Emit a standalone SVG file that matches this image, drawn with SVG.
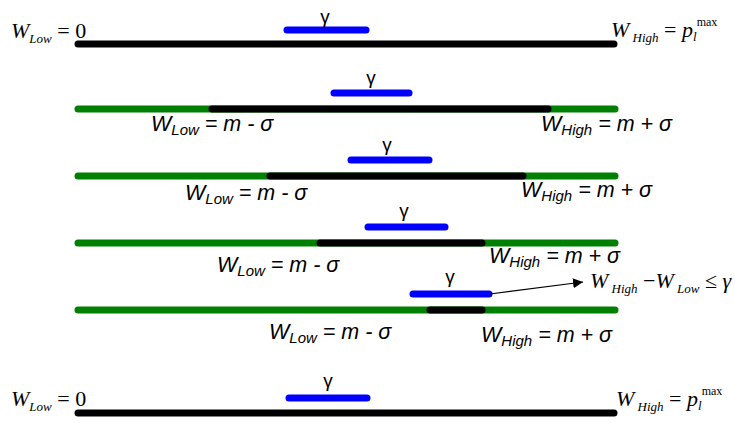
<svg xmlns="http://www.w3.org/2000/svg" width="735" height="425" viewBox="0 0 735 425">
<defs>
<style>
.bar{stroke-width:7;stroke-linecap:round;fill:none}
.k{stroke:#000}
.g{stroke:#008000}
.b{stroke:#0000FF}
.lab{font-family:"Liberation Sans",Arial,sans-serif;font-style:italic;font-size:21.5px;fill:#000}
.sub{font-size:15px}
.gam{font-family:"Liberation Sans",Arial,sans-serif;font-size:19px;fill:#000}
.tm{font-family:"Liberation Serif","Times New Roman",serif;font-size:22px;fill:#000}
.tmi{font-style:italic}
.tsub{font-size:13px;font-style:italic}
</style>
<marker id="ah" viewBox="0 0 10 10" refX="10" refY="5" markerWidth="10" markerHeight="10" markerUnits="userSpaceOnUse" orient="auto">
<path d="M0,0 L10,5 L0,10 z" fill="#000"/>
</marker>
</defs>

<g id="row1">
<line class="bar k" x1="78" y1="44" x2="614" y2="44"/>
<line class="bar b" x1="287" y1="30" x2="366" y2="30"/>
<text class="gam" x="325" y="23" text-anchor="middle">γ</text>
<text class="tm" x="11" y="38"><tspan class="tmi">W</tspan><tspan class="tsub" dy="5">Low</tspan><tspan dy="-5"> = 0</tspan></text>
<text class="tm" x="611" y="37"><tspan class="tmi">W</tspan><tspan class="tsub" dy="5"> High</tspan><tspan dy="-5"> = </tspan><tspan class="tmi">p</tspan><tspan class="tsub" dy="4">l</tspan><tspan style="font-size:12px" dy="-15">max</tspan></text>
</g>

<g id="row2">
<line class="bar g" x1="78" y1="109" x2="615" y2="109"/>
<line class="bar k" x1="212" y1="109" x2="548" y2="109"/>
<line class="bar b" x1="334" y1="93" x2="409" y2="93"/>
<text class="gam" x="371" y="84" text-anchor="middle">γ</text>
<text class="lab" x="151" y="131">W<tspan class="sub" dy="4">Low</tspan><tspan dy="-4"> = m - σ</tspan></text>
<text class="lab" x="541" y="131">W<tspan class="sub" dy="4">High</tspan><tspan dy="-4"> = m + σ</tspan></text>
</g>

<g id="row3">
<line class="bar g" x1="78" y1="176" x2="615" y2="176"/>
<line class="bar k" x1="270" y1="176" x2="523" y2="176"/>
<line class="bar b" x1="351" y1="160" x2="429" y2="160"/>
<text class="gam" x="387" y="151" text-anchor="middle">γ</text>
<text class="lab" x="185" y="200">W<tspan class="sub" dy="4">Low</tspan><tspan dy="-4"> = m - σ</tspan></text>
<text class="lab" x="521" y="197">W<tspan class="sub" dy="4">High</tspan><tspan dy="-4"> = m + σ</tspan></text>
</g>

<g id="row4">
<line class="bar g" x1="78" y1="243" x2="615" y2="243"/>
<line class="bar k" x1="320" y1="243" x2="482" y2="243"/>
<line class="bar b" x1="368" y1="227" x2="445" y2="227"/>
<text class="gam" x="404" y="217" text-anchor="middle">γ</text>
<text class="lab" x="217" y="272">W<tspan class="sub" dy="4">Low</tspan><tspan dy="-4"> = m - σ</tspan></text>
<text class="lab" x="489" y="263">W<tspan class="sub" dy="4">High</tspan><tspan dy="-4"> = m + σ</tspan></text>
</g>

<g id="row5">
<line class="bar g" x1="78" y1="310" x2="615" y2="310"/>
<line class="bar k" x1="430" y1="310" x2="482" y2="310"/>
<line class="bar b" x1="413" y1="294" x2="489" y2="294"/>
<text class="gam" x="450" y="283" text-anchor="middle">γ</text>
<text class="lab" x="269" y="339">W<tspan class="sub" dy="4">Low</tspan><tspan dy="-4"> = m - σ</tspan></text>
<text class="lab" x="481" y="342">W<tspan class="sub" dy="4">High</tspan><tspan dy="-4"> = m + σ</tspan></text>
</g>

<g id="note">
<text class="tm" x="590" y="288"><tspan class="tmi">W</tspan><tspan class="tsub" dy="5"> High</tspan><tspan dy="-5"> −</tspan><tspan class="tmi">W</tspan><tspan class="tsub" dy="5"> Low</tspan><tspan dy="-5"> ≤ </tspan><tspan class="tmi">γ</tspan></text>
</g>

<g id="row6">
<line class="bar k" x1="78" y1="413" x2="614" y2="413"/>
<line class="bar b" x1="289" y1="398" x2="367" y2="398"/>
<text class="gam" x="328" y="387" text-anchor="middle">γ</text>
<text class="tm" x="11" y="406"><tspan class="tmi">W</tspan><tspan class="tsub" dy="5">Low</tspan><tspan dy="-5"> = 0</tspan></text>
<text class="tm" x="616" y="406"><tspan class="tmi">W</tspan><tspan class="tsub" dy="5"> High</tspan><tspan dy="-5"> = </tspan><tspan class="tmi">p</tspan><tspan class="tsub" dy="4">l</tspan><tspan style="font-size:12px" dy="-15">max</tspan></text>
</g>

<g id="connectors">
<line x1="490" y1="294" x2="583" y2="282" stroke="#000" stroke-width="1.2" marker-end="url(#ah)"/>
</g>
</svg>
